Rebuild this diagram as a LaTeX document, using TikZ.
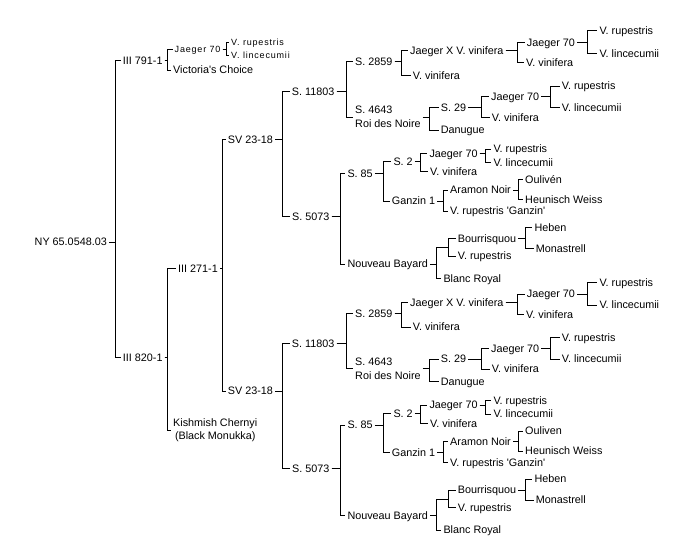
\documentclass[tikz,border=0pt]{standalone}
\usepackage{fontspec}
\setmainfont{Liberation Sans}
\newfontfamily\smlfam{Liberation Sans}[LetterSpace=9]
\newcommand\lblfont{\fontsize{10.8pt}{14pt}\selectfont}
\newcommand\smlfont{\smlfam\fontsize{9pt}{10pt}\selectfont}
\newcommand\kshfont{\fontsize{10.8pt}{13pt}\selectfont}
\tikzset{
  lbl/.style={anchor=west, inner xsep=2pt, inner ysep=0pt, text height=7.8pt, text depth=0pt, font=\lblfont},
  slbl/.style={lbl, text height=6.4pt, font=\smlfont},
  ml/.style={anchor=west, inner xsep=2pt, inner ysep=0pt, align=left, font=\lblfont},
  link/.style={line width=1pt, black},
}
\newcommand\conn[3]{\draw[link] (#1.east) -- (#1.east -| #2,0) |- (#3.west);}
\newcommand\svtree[3]{%
\begin{scope}[yshift=-#2pt]
\node[lbl] (#1sv) at (225.7,139.3) {SV 23-18};
\node[lbl] (#1a) at (289.7,91.7) {S. 11803};
\node[lbl] (#1b) at (290,216.7) {S. 5073};
\node[lbl] (#1c) at (353,61.7) {S. 2859};
\node[ml] (#1d) at (353,117.1) {S. 4643\\Roi des Noire};
\node[lbl] (#1e) at (408,50.7) {Jaeger X V. vinifera};
\node[lbl] (#1f) at (410.7,75.3) {V. vinifera};
\node[lbl] (#1g) at (524.7,42.3) {Jaeger 70};
\node[lbl] (#1h) at (524,62.7) {V. vinifera};
\node[lbl] (#1i) at (597.3,30.7) {V. rupestris};
\node[lbl] (#1j) at (597.3,53.3) {V. lincecumii};
\node[lbl] (#1k) at (438.7,107.3) {S. 29};
\node[lbl] (#1l) at (438.7,130) {Danugue};
\node[lbl] (#1m) at (489,96.7) {Jaeger 70};
\node[lbl] (#1n) at (489.7,117.3) {V. vinifera};
\node[lbl] (#1o) at (559.7,86) {V. rupestris};
\node[lbl] (#1p) at (559.7,107.3) {V. lincecumii};
\node[lbl] (#1q) at (345.3,173.3) {S. 85};
\node[lbl] (#1r) at (345.3,264) {Nouveau Bayard};
\node[lbl] (#1s) at (391.3,161.7) {S. 2};
\node[lbl] (#1t) at (389.7,201) {Ganzin 1};
\node[lbl] (#1u) at (427.3,153.3) {Jaeger 70};
\node[lbl] (#1v) at (428,171.7) {V. vinifera};
\node[lbl] (#1w) at (491.3,149) {V. rupestris};
\node[lbl] (#1x) at (491.3,162.3) {V. lincecumii};
\node[lbl] (#1y) at (448,190) {Aramon Noir};
\node[lbl] (#1z) at (448,211) {V. rupestris \textquotesingle Ganzin\textquotesingle};
\node[lbl] (#1aa) at (523,179.3) {#3};
\node[lbl] (#1ab) at (523,199.3) {Heunisch Weiss};
\coordinate (#1ac) at (448.3,247.3);
\node[lbl] (#1ad) at (441.3,278.3) {Blanc Royal};
\node[lbl] (#1ae) at (455.7,238.3) {Bourrisquou};
\node[lbl] (#1af) at (455.7,256) {V. rupestris};
\node[lbl] (#1ag) at (532.3,227.3) {Heben};
\node[lbl] (#1ah) at (533.7,248.3) {Monastrell};
\conn{#1sv}{282.7}{#1a} \conn{#1sv}{282.7}{#1b}
\conn{#1a}{346.7}{#1c} \conn{#1a}{346.7}{#1d}
\conn{#1c}{401.7}{#1e} \conn{#1c}{401.7}{#1f}
\conn{#1e}{517.3}{#1g} \conn{#1e}{517.3}{#1h}
\conn{#1g}{587.3}{#1i} \conn{#1g}{587.3}{#1j}
\conn{#1d}{429.3}{#1k} \conn{#1d}{429.3}{#1l}
\conn{#1k}{481.7}{#1m} \conn{#1k}{481.7}{#1n}
\conn{#1m}{550.7}{#1o} \conn{#1m}{550.7}{#1p}
\conn{#1b}{340}{#1q} \conn{#1b}{340}{#1r}
\conn{#1q}{383.3}{#1s} \conn{#1q}{383.3}{#1t}
\conn{#1s}{420}{#1u} \conn{#1s}{420}{#1v}
\conn{#1u}{485.7}{#1w} \conn{#1u}{485.7}{#1x}
\conn{#1t}{443.3}{#1y} \conn{#1t}{443.3}{#1z}
\conn{#1y}{518.3}{#1aa} \conn{#1y}{518.3}{#1ab}
\draw[link] (#1r.east) -- (#1r.east -| 436,0) |- (#1ac);
\conn{#1r}{436}{#1ad}
\draw[link] (#1ac) |- (#1ae.west);
\draw[link] (#1ac) |- (#1af.west);
\conn{#1ae}{525}{#1ag} \conn{#1ae}{525}{#1ah}
\end{scope}}
\begin{document}
\begin{tikzpicture}[x=1pt,y=-1pt]
\fill[white] (0,0) rectangle (695,555);
\useasboundingbox (0,0) rectangle (695,555);
\node[lbl, anchor=east] (root) at (109,242) {NY 65.0548.03};
\node[lbl] (n791) at (120.7,60.7) {III 791-1};
\node[lbl] (n820) at (120.7,357.7) {III 820-1};
\node[slbl] (j70s) at (172.5,49.3) {Jaeger 70};
\node[lbl] (vic) at (171,70) {Victoria\textquotesingle s Choice};
\node[slbl] (vrs) at (229,42.3) {V. rupestris};
\node[slbl] (vls) at (229,55.3) {V. lincecumii};
\node[lbl] (n271) at (176,268.3) {III 271-1};
\node[ml, align=center, font=\kshfont] (kish) at (171,430.3) {Kishmish Chernyi\\(Black Monukka)};
\svtree{u}{0}{Oulivén}
\svtree{w}{251.7}{Ouliven}
\conn{root}{115}{n791} \conn{root}{115}{n820}
\conn{n791}{167}{j70s} \conn{n791}{167}{vic}
\conn{j70s}{226}{vrs} \conn{j70s}{226}{vls}
\conn{n820}{167.3}{n271} \conn{n820}{167.3}{kish}
\conn{n271}{222}{usv} \conn{n271}{222}{wsv}
\end{tikzpicture}
\end{document}
